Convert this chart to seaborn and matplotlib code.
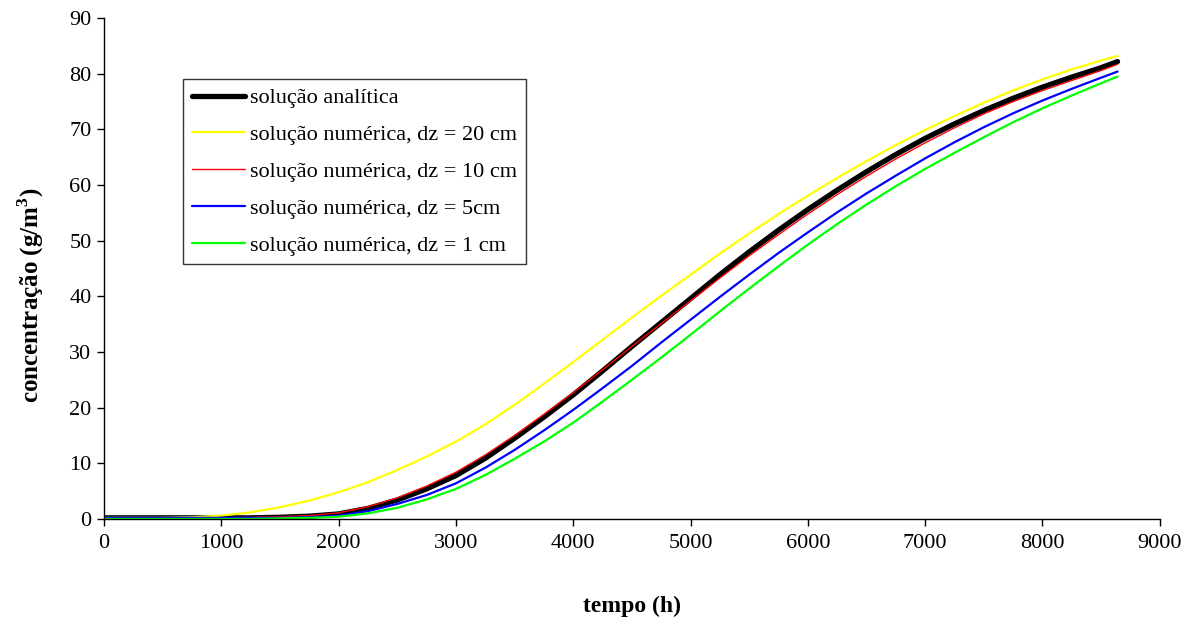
import numpy as np
import pandas as pd
import matplotlib
matplotlib.use("Agg")
import matplotlib.pyplot as plt
import seaborn as sns

tempo = [0, 250, 500, 750, 1000, 1250, 1500, 1750, 2000, 2250, 2500, 2750,
         3000, 3250, 3500, 3750, 4000, 4250, 4500, 4750, 5000, 5250, 5500,
         5750, 6000, 6250, 6500, 6750, 7000, 7250, 7500, 7750, 8000, 8250,
         8500, 8640]

analitica = [0.2, 0.2, 0.2, 0.2, 0.2, 0.2, 0.3, 0.5, 0.9, 1.9, 3.4, 5.4,
             7.8, 10.9, 14.5, 18.3, 22.3, 26.6, 31.0, 35.3, 39.6, 43.9, 48.0,
             51.9, 55.6, 59.1, 62.4, 65.5, 68.4, 71.0, 73.4, 75.6, 77.6, 79.4,
             81.1, 82.2]
dz20 = [0.2, 0.2, 0.2, 0.3, 0.6, 1.2, 2.1, 3.3, 4.8, 6.6, 8.8, 11.2,
        13.9, 17.0, 20.5, 24.3, 28.2, 32.2, 36.2, 40.1, 43.9, 47.7, 51.3,
        54.8, 58.1, 61.3, 64.3, 67.2, 69.9, 72.4, 74.8, 77.0, 79.0, 80.8,
        82.4, 83.2]
dz10 = [0.2, 0.2, 0.2, 0.2, 0.2, 0.3, 0.4, 0.6, 1.1, 2.2, 3.8, 5.9,
        8.4, 11.5, 15.0, 18.8, 22.7, 26.8, 31.0, 35.1, 39.2, 43.3, 47.3,
        51.1, 54.8, 58.3, 61.6, 64.7, 67.6, 70.3, 72.8, 75.0, 77.0, 78.8,
        80.6, 81.7]
dz5 = [0.2, 0.2, 0.2, 0.2, 0.2, 0.2, 0.2, 0.3, 0.6, 1.4, 2.7, 4.3,
       6.4, 9.2, 12.4, 15.9, 19.6, 23.5, 27.5, 31.7, 35.8, 39.9, 43.9,
       47.8, 51.5, 55.1, 58.5, 61.7, 64.8, 67.7, 70.4, 72.9, 75.2, 77.3,
       79.3, 80.4]
dz1 = [0.0, 0.0, 0.0, 0.0, 0.0, 0.0, 0.1, 0.2, 0.4, 1.0, 2.0, 3.5,
       5.4, 7.9, 10.8, 13.9, 17.3, 21.1, 25.0, 29.0, 33.1, 37.3, 41.4,
       45.4, 49.3, 53.0, 56.5, 59.8, 62.9, 65.8, 68.6, 71.3, 73.8, 76.1,
       78.3, 79.5]

series = [
    ("solução analítica", analitica, "#000000", 3.8),
    ("solução numérica, dz = 20 cm", dz20, "#ffff00", 1.6),
    ("solução numérica, dz = 10 cm", dz10, "#ff0000", 1.0),
    ("solução numérica, dz = 5cm", dz5, "#0000ff", 1.6),
    ("solução numérica, dz = 1 cm", dz1, "#00ff00", 1.6),
]

sns.set_theme(style="white")
plt.rcParams["font.family"] = ["Liberation Serif", "DejaVu Serif"]
plt.rcParams["text.color"] = "black"
plt.rcParams["axes.labelcolor"] = "black"
plt.rcParams["mathtext.fontset"] = "custom"
plt.rcParams["mathtext.rm"] = "Liberation Serif"
plt.rcParams["mathtext.bf"] = "Liberation Serif:bold"

fig = plt.figure(figsize=(11.97, 6.26), dpi=100)
ax = fig.add_axes([0.0869, 0.171, 0.882, 0.800])

for nome, vals, cor, lw in series:
    df = pd.DataFrame({"tempo": tempo, "c": vals})
    sns.lineplot(data=df, x="tempo", y="c", ax=ax, color=cor, linewidth=lw,
                 label=nome, solid_capstyle="round")

ax.set_xlim(0, 9000)
ax.set_ylim(0, 90)
ax.set_xticks(np.arange(0, 9001, 1000))
ax.set_yticks(np.arange(0, 91, 10))
ax.tick_params(axis="both", direction="out", length=5, width=1, color="black",
               labelsize=16, labelcolor="black", bottom=True, left=True)
ax.tick_params(axis="x", pad=6)
ax.tick_params(axis="y", pad=4)

for s in ["top", "right"]:
    ax.spines[s].set_visible(False)
for s in ["left", "bottom"]:
    ax.spines[s].set_color("black")
    ax.spines[s].set_linewidth(1)

ax.set_xlabel("tempo (h)", fontsize=17, fontweight="bold", labelpad=31)
ax.set_ylabel(r"concentração (g/m$^\mathbf{3}$)", fontsize=18,
              fontweight="bold")
ax.yaxis.set_label_coords(-0.055, 0.447)

leg = ax.legend(loc="upper left", bbox_to_anchor=(183 / 1197, 1 - 79 / 626),
                bbox_transform=fig.transFigure, borderaxespad=0,
                fontsize=16, frameon=True, fancybox=False, handlelength=2.4,
                handletextpad=0.2, labelspacing=0.73, borderpad=0.4)
leg.get_frame().set_edgecolor("black")
leg.get_frame().set_linewidth(1)

fig.savefig("out.png", dpi=100)
